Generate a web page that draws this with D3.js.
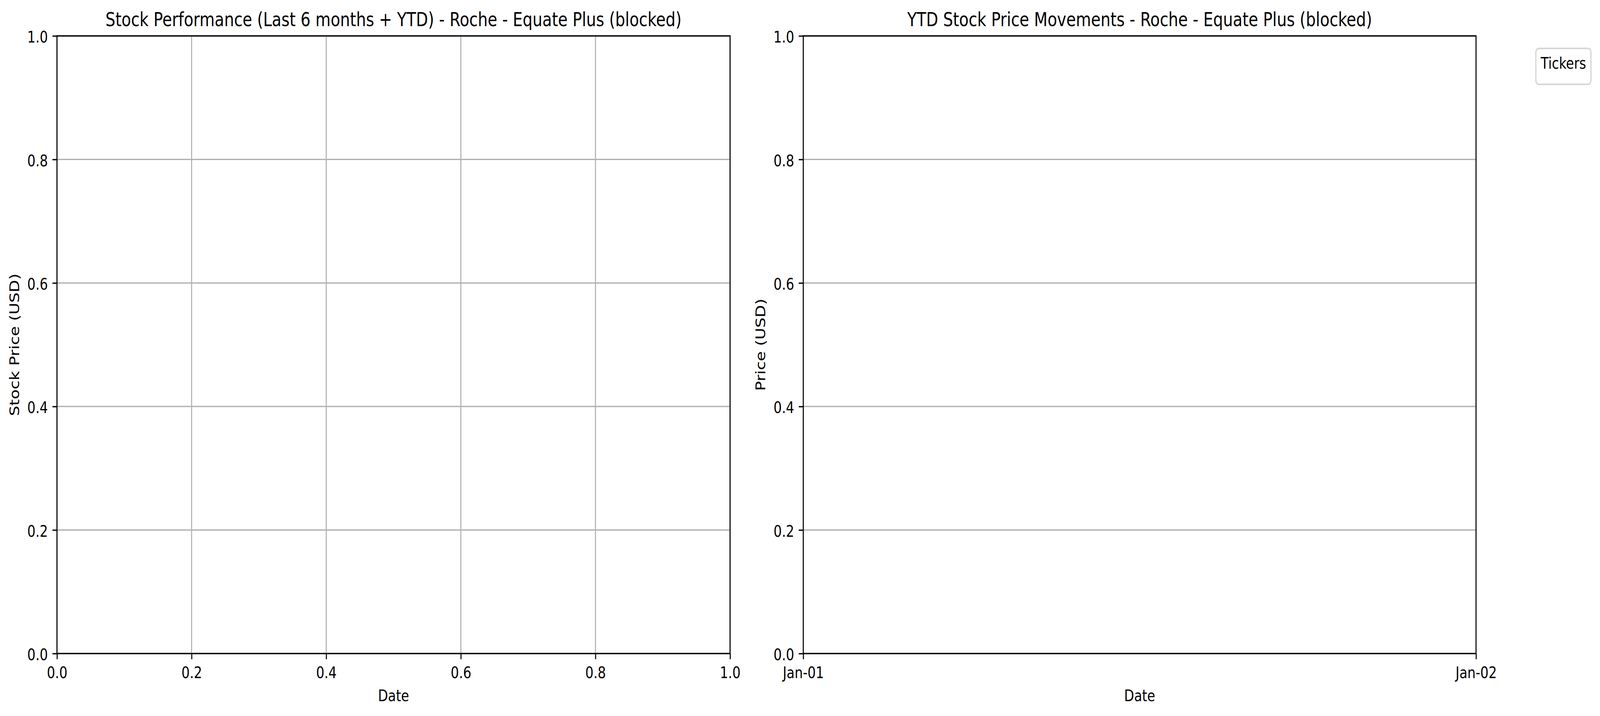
<!DOCTYPE html>
<meta charset="utf-8">
<title>Roche - Equate Plus (blocked)</title>
<script src="https://d3js.org/d3.v7.min.js"></script>
<style>
  html, body { margin: 0; padding: 0; background: #fff; overflow: hidden; }
  #chart svg { display: block; width: 100vw; height: 100vh; }
  text { font-family: "DejaVu Sans", sans-serif; fill: #000; }
</style>
<div id="chart"></div>
<script>
  // data / labels (both panels are empty)
  const leftTitle = "Stock Performance (Last 6 months + YTD) - Roche - Equate Plus (blocked)";
  const rightTitle = "YTD Stock Price Movements - Roche - Equate Plus (blocked)";
  const leftYLabel = "Stock Price (USD)";
  const rightYLabel = "Price (USD)";
  const xLabel = "Date";
  const legendTitle = "Tickers";
  const tickers = [];
  const valueTicks = [0, 0.2, 0.4, 0.6, 0.8, 1.0];
  const dateTicks = ["1970-01-01", "1970-01-02"];

  const W = 5137, H = 1834;
  const lw = 3.33, fs = 41.67, tickLen = 14.6;
  const plotTop = 92, plotBottom = 1674;
  const panels = [
    { left: 183, right: 2344, title: leftTitle, ylab: leftYLabel, ylabX: 62, kind: "num" },
    { left: 2579, right: 4739, title: rightTitle, ylab: rightYLabel, ylabX: 2457, kind: "date" }
  ];

  // stretch to whatever window we get
  const svg = d3.select("#chart").append("svg")
    .attr("viewBox", `0 0 ${W} ${H}`)
    .attr("preserveAspectRatio", "none");
  svg.append("rect").attr("width", W).attr("height", H).attr("fill", "#fff");

  panels.forEach(p => {
    const g = svg.append("g");
    const y = d3.scaleLinear().domain([0, 1]).range([plotBottom, plotTop]);
    let x, xTicks, xFmt;
    if (p.kind === "num") {
      x = d3.scaleLinear().domain([0, 1]).range([p.left, p.right]);
      xTicks = valueTicks;
      xFmt = d3.format(".1f");
    } else {
      const dates = dateTicks.map(d => d3.utcParse("%Y-%m-%d")(d));
      x = d3.scaleUtc().domain(dates).range([p.left, p.right]);
      xTicks = dates;
      xFmt = d3.utcFormat("%b-%d");
    }

    // grid
    g.append("g").selectAll("line").data(valueTicks).join("line")
      .attr("x1", p.left).attr("x2", p.right)
      .attr("y1", d => y(d)).attr("y2", d => y(d))
      .attr("stroke", "#b0b0b0").attr("stroke-width", lw);
    if (p.kind === "num") {
      g.append("g").selectAll("line").data(xTicks).join("line")
        .attr("x1", d => x(d)).attr("x2", d => x(d))
        .attr("y1", plotTop).attr("y2", plotBottom)
        .attr("stroke", "#b0b0b0").attr("stroke-width", lw);
    }

    // axes
    const yAxis = g.append("g").attr("transform", `translate(${p.left},0)`)
      .call(d3.axisLeft(y).tickValues(valueTicks).tickFormat(d3.format(".1f"))
        .tickSize(tickLen).tickPadding(tickLen));
    const xAxis = g.append("g").attr("transform", `translate(0,${plotBottom})`)
      .call(d3.axisBottom(x).tickValues(xTicks).tickFormat(xFmt)
        .tickSize(tickLen).tickPadding(tickLen));
    [yAxis, xAxis].forEach(a => {
      a.select(".domain").remove();
      a.selectAll("line").attr("stroke", "#000").attr("stroke-width", lw);
      a.selectAll("text").attr("font-size", fs).attr("font-family", "DejaVu Sans").attr("fill", "#000");
    });
    yAxis.selectAll("text").attr("dy", "0.4em");
    xAxis.selectAll("text").attr("y", 63).attr("dy", 0);

    // spines
    g.append("rect")
      .attr("x", p.left).attr("y", plotTop)
      .attr("width", p.right - p.left).attr("height", plotBottom - plotTop)
      .attr("fill", "none").attr("stroke", "#000").attr("stroke-width", lw);

    // labels
    g.append("text")
      .attr("x", (p.left + p.right) / 2).attr("y", 67)
      .attr("text-anchor", "middle").attr("font-size", 50)
      .text(p.title);
    g.append("text")
      .attr("x", (p.left + p.right) / 2).attr("y", 1796)
      .attr("text-anchor", "middle").attr("font-size", fs)
      .text(xLabel);
    g.append("text")
      .attr("transform", `translate(${p.ylabX},${(plotTop + plotBottom) / 2}) rotate(-90)`)
      .attr("text-anchor", "middle").attr("font-size", fs)
      .text(p.ylab);
  });

  // legend (title only, no entries)
  const leg = svg.append("g");
  leg.append("rect")
    .attr("x", 4931).attr("y", 124).attr("width", 177).attr("height", 92)
    .attr("rx", 10).attr("ry", 10)
    .attr("fill", "#fff").attr("stroke", "#d6d6d6").attr("stroke-width", 4);
  leg.append("text")
    .attr("x", 5019.5).attr("y", 176)
    .attr("text-anchor", "middle").attr("font-size", fs)
    .text(legendTitle);
  leg.selectAll(".entry").data(tickers).join("text").attr("class", "entry").text(d => d);
</script>
